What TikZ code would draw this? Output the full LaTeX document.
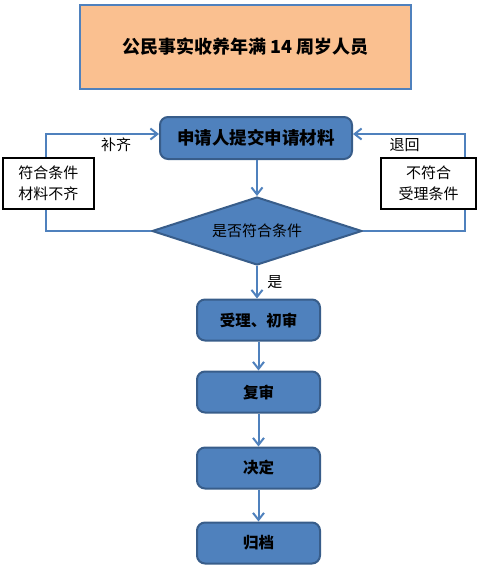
\documentclass[tikz,border=0pt]{standalone}
\usepackage{fontspec}
\setmainfont{Noto Sans CJK SC}
\usetikzlibrary{arrows.meta, shapes.geometric, positioning}
\definecolor{myblue}{RGB}{79,129,189}
\definecolor{mydarkblue}{RGB}{56,93,138}
\definecolor{mypeach}{RGB}{250,192,144}

\begin{document}
\begin{tikzpicture}[x=1pt,y=-1pt,
  titlebox/.style={draw=myblue, line width=2.5pt, fill=mypeach, minimum width=331pt, minimum height=84pt,
    font=\fontsize{18}{21}\selectfont\bfseries},
  procbox/.style={draw=mydarkblue, line width=2pt, fill=myblue, rounded corners=8pt,
    minimum width=123pt, minimum height=41pt, font=\fontsize{15.5}{18}\selectfont\bfseries},
  decbox/.style={diamond, aspect=3.1, draw=mydarkblue, line width=2pt, fill=myblue, inner sep=0pt,
    minimum width=210pt, minimum height=68pt, font=\fontsize{15}{18}\selectfont},
  sidebox/.style={draw=black, line width=2pt, fill=white, align=center,
    minimum height=51pt, font=\fontsize{15}{21}\selectfont},
  link/.style={draw=myblue, line width=2pt, -{Straight Barb[length=7pt,width=11pt]}},
  line/.style={draw=myblue, line width=2pt},
  lbl/.style={font=\fontsize{15}{18}\selectfont}]
\useasboundingbox (0,0) rectangle (477,566);

\node[titlebox] (title) at (245.5,47) {公民事实收养年满 14 周岁人员};
\node[procbox, minimum width=192pt, minimum height=42pt, font=\fontsize{17.5}{20}\selectfont\bfseries] (apply) at (256,138) {申请人提交申请材料};
\node[decbox] (check) at (257,231) {是否符合条件};
\node[sidebox, minimum width=91pt] (lack) at (48.5,183.5) {符合条件\\材料不齐};
\node[sidebox, minimum width=95pt] (reject) at (428.5,183.5) {不符合\\受理条件};

\node[procbox] (first) at (258.5,320) {受理、初审};
\node[procbox] (second) at (258.5,392) {复审};
\node[procbox] (decide) at (258.5,468) {决定};
\node[procbox] (archive) at (258.5,543) {归档};

% main chain
\draw[link] (apply.south -| check.north) -- (check.north);
\draw[link] (check.south) -- (check.south |- first.north) node[midway, right=6pt, lbl]{是};
\draw[link] (first) -- (second);
\draw[link] (second) -- (decide);
\draw[link] (decide) -- (archive);

% loops back
\draw[link] ([xshift=-2.5pt]lack.north) |- ([yshift=4pt]apply.west) node[pos=0.81, below, lbl]{补齐};
\draw[line] (check.west) -| ([xshift=-2.5pt]lack.south);
\draw[link] ([xshift=36.5pt]reject.north) |- ([yshift=4pt]apply.east) node[pos=0.77, below, lbl]{退回};
\draw[line] (check.east) -| ([xshift=36.5pt]reject.south);
\end{tikzpicture}
\end{document}
